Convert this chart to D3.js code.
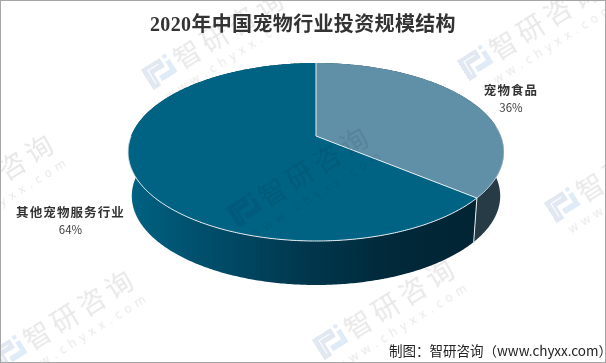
<!DOCTYPE html>
<html>
<head>
<meta charset="utf-8">
<script src="https://cdnjs.cloudflare.com/ajax/libs/d3/7.8.5/d3.min.js"></script>
<style>
    html, body { margin: 0; padding: 0; background: #fff; }
    svg { display: block; }
    text { font-family: "Noto Sans CJK SC", "Noto Sans", sans-serif; }
    .wm { mix-blend-mode: multiply; }
</style>
</head>
<body>
<div id="chart"></div>
<script>
const chartTitle = "2020年中国宠物行业投资规模结构";
const sourceText = "制图：智研咨询（www.chyxx.com）";
const categories = ["宠物食品", "其他宠物服务行业"];
const values = [36, 64];
const valueLabels = ["36%", "64%"];

const width = 606, height = 363;

const svg = d3.select("#chart").append("svg")
    .attr("width", width)
    .attr("height", height);

// Perspective pie: the disc is projected, so its centre sits above the ellipse centre
const cx = 316, apexY = 136;
const persp = -0.1798, yScale = 61.67, xScale = 184.9;
const depth = 44, lowerScale = 0.98;

function rim(theta, lower) {
    const u = Math.sin(theta), v = -Math.cos(theta);
    const w = 1 + persp * v;
    const x = xScale * u / w, y = (yScale * v + apexY) / w;
    return lower ? [cx + x * lowerScale, y + depth] : [cx + x, y];
}

const pie = d3.pie().sort(null).value(d => d)(values);
const line = d3.line();

function arcPoints(a0, a1, lower) {
    const n = Math.ceil((a1 - a0) / 0.01);
    return d3.range(n + 1).map(i => rim(a0 + (a1 - a0) * i / n, lower));
}

const defs = svg.append("defs");
const wallGradient = defs.append("linearGradient")
    .attr("id", "wallGradient")
    .attr("gradientUnits", "userSpaceOnUse")
    .attr("x1", 128).attr("x2", 476).attr("y1", 0).attr("y2", 0);
[[0, "#006282"], [0.2, "#00506d"], [0.5, "#00384e"], [0.75, "#01293a"], [1, "#012433"]]
    .forEach(s => wallGradient.append("stop").attr("offset", s[0]).attr("stop-color", s[1]));
defs.append("filter").attr("id", "soft")
    .append("feGaussianBlur").attr("stdDeviation", 0.5);

const topColors = ["#5f90a8", "#006384"];
const wallColors = ["#263b45", "url(#wallGradient)"];

// Watermarks sit over the pie, multiplied so they only darken it a little
function drawWatermark(g, x, y) {
    const m = g.append("g").attr("transform", `translate(${x},${y}) rotate(-32)`);
    m.append("path")
        .attr("d", "M-15,-12 L7,-12 L7,-2 L-6,-2 L-6,12 L-15,12 Z M-10,-8 L-10,8 L-9,8 L-9,-7 L3,-7 L3,-8 Z")
        .attr("fill", "#e2e8f1").attr("fill-rule", "evenodd");
    m.append("path")
        .attr("d", "M-3,3 L10,3 L10,-6 L15,-6 L15,9 L-3,9 Z")
        .attr("fill", "#dfebf6");
    m.append("circle").attr("cx", 12).attr("cy", -11).attr("r", 2.3).attr("fill", "#dfebf6");
    m.append("text").attr("x", 19).attr("y", 10)
        .attr("font-size", 27)
        .attr("letter-spacing", 5)
        .attr("fill", "#e8e8e8")
        .text("智研咨询");
    m.append("text").attr("x", -8).attr("y", 29)
        .attr("font-size", 12)
        .attr("letter-spacing", 5.1)
        .attr("fill", "#e8e8e8")
        .style("font-family", "'Open Sans', sans-serif")
        .text("www.chyxx.com");
}

const watermarkSpots = [[-70, 217], [10, 353], [160, 72], [245, 210], [331, 342], [476, 63], [563, 205]];

// Walls first, painted back to front
pie.slice().reverse().forEach(d => {
    const i = d.index;
    const band = arcPoints(d.startAngle, d.endAngle, false)
        .concat(arcPoints(d.startAngle, d.endAngle, true).reverse());
    svg.append("path")
        .attr("d", line(band) + "Z")
        .attr("fill", wallColors[i]);
});

// Top faces
pie.forEach(d => {
    const pts = [[cx, apexY]].concat(arcPoints(d.startAngle, d.endAngle, false));
    svg.append("path")
        .attr("d", line(pts) + "Z")
        .attr("fill", topColors[d.index]);
});

// White edges
const split = pie[0].endAngle;
const edges = svg.append("g").attr("fill", "none").attr("stroke", "#e8eef1");
edges.append("path").attr("d", line([rim(0), [cx, apexY], rim(split)])).attr("stroke-width", 1);
edges.append("path").attr("d", line([rim(split), rim(split, true)])).attr("stroke-width", 1);
edges.append("path").attr("d", line(arcPoints(split, 1.5 * Math.PI, false))).attr("stroke-width", 1);
edges.append("path").attr("d", line(arcPoints(1.45, split, false))).attr("stroke-width", 0.6);

const wmGroup = svg.append("g").attr("class", "wm").attr("filter", "url(#soft)");
watermarkSpots.forEach(p => drawWatermark(wmGroup, p[0], p[1]));

// Title
svg.append("text")
    .attr("x", 303).attr("y", 31)
    .attr("text-anchor", "middle")
    .attr("font-size", 20)
    .attr("font-weight", 700)
    .attr("letter-spacing", 0.35)
    .attr("fill", "#333")
    .style("font-family", "'Liberation Serif', 'Noto Sans CJK SC', serif")
    .text(chartTitle);

// Labels
const labelAnchors = [[511, 95, 112], [70.5, 217, 234]];
categories.forEach((c, i) => {
    svg.append("text")
        .attr("x", labelAnchors[i][0]).attr("y", labelAnchors[i][1])
        .attr("text-anchor", "middle")
        .attr("font-size", 12.5)
        .attr("font-weight", 700)
        .attr("letter-spacing", 1.1)
        .attr("fill", "#333")
        .text(c);
    svg.append("text")
        .attr("x", labelAnchors[i][0]).attr("y", labelAnchors[i][2])
        .attr("text-anchor", "middle")
        .attr("font-size", 11.5)
        .attr("fill", "#404040")
        .text(valueLabels[i]);
});

// Source line
svg.append("text")
    .attr("x", 389).attr("y", 356)
    .attr("font-size", 13.5)
    .attr("fill", "#222")
    .text(sourceText);

// Frame
svg.append("rect")
    .attr("x", 0.5).attr("y", 0.5)
    .attr("width", width - 1).attr("height", height - 1)
    .attr("fill", "none")
    .attr("stroke", "#a6a6a6");
</script>
</body>
</html>
